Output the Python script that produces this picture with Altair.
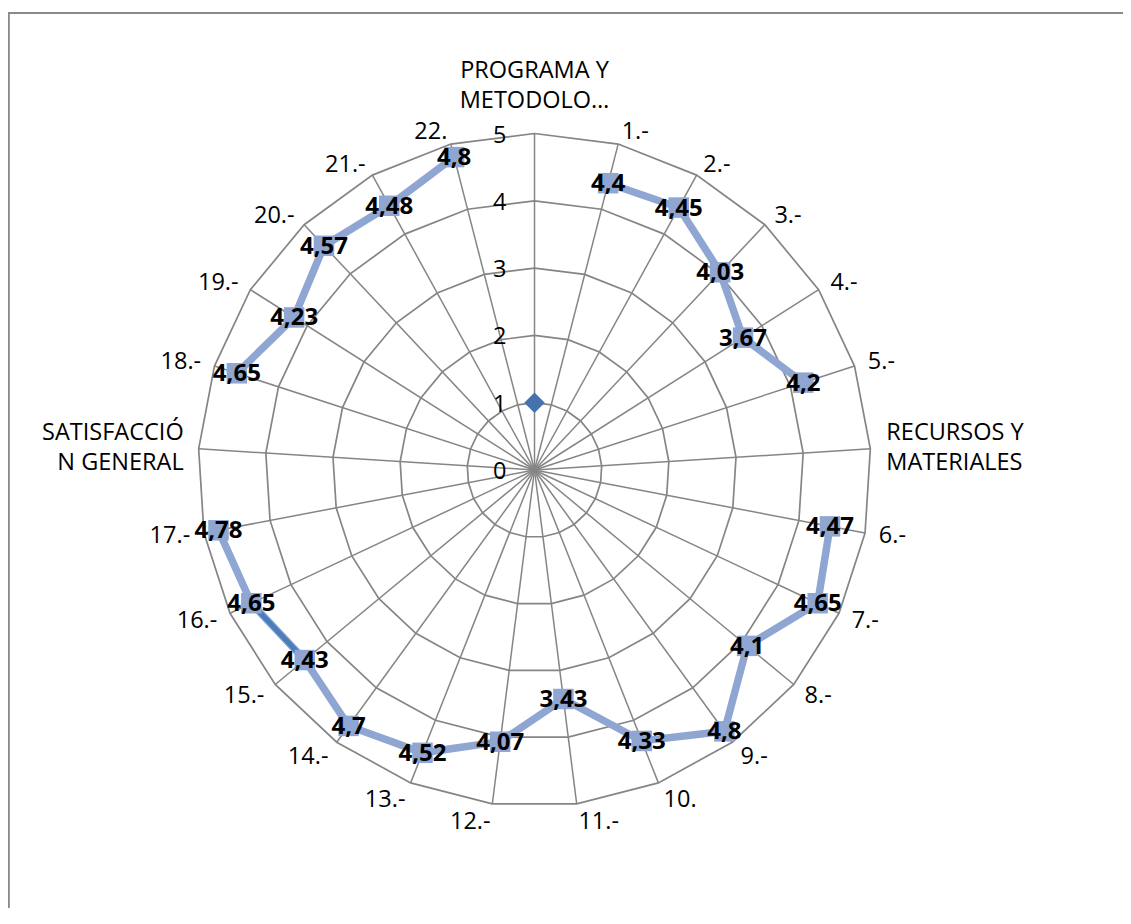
import altair as alt
import pandas as pd

# ---------------- data ----------------
categories = [
    "PROGRAMA Y\nMETODOLO…", "1.-", "2.-", "3.-", "4.-", "5.-",
    "RECURSOS Y\nMATERIALES", "6.-", "7.-", "8.-", "9.-", "10.", "11.-",
    "12.-", "13.-", "14.-", "15.-", "16.-", "17.-",
    "SATISFACCIÓ\nN GENERAL", "18.-", "19.-", "20.-", "21.-", "22.",
]
values = [
    None, 4.4, 4.45, 4.03, 3.67, 4.2,
    None, 4.47, 4.65, 4.1, 4.8, 4.33, 3.43,
    4.07, 4.52, 4.7, 4.43, 4.65, 4.78,
    None, 4.65, 4.23, 4.57, 4.48, 4.8,
]
series2_category = ["PROGRAMA Y\nMETODOLO…"]
series2_values = [1]
dark_segment = ["15.-", "16.-"]
group_labels = ["PROGRAMA Y\nMETODOLO…", "RECURSOS Y\nMATERIALES", "SATISFACCIÓ\nN GENERAL"]
ring_levels = [1, 2, 3, 4, 5]
tick_labels = [0, 1, 2, 3, 4, 5]

N = len(categories)
RMAX = 5

# ---------------- tables ----------------
seg, rows = 0, []
for i, (c, v) in enumerate(zip(categories, values)):
    if v is None:
        seg += 1
    rows.append({"idx": i, "cat": c, "value": v, "seg": seg})
df_cat = pd.DataFrame(rows)
df_pts = df_cat.dropna(subset=["value"]).copy()
df_s2 = pd.DataFrame({"cat": series2_category, "value": series2_values,
                      "idx": [categories.index(c) for c in series2_category]})
df_rings = pd.DataFrame([{"level": L, "k": k} for L in ring_levels for k in range(N + 1)])
df_ticks = pd.DataFrame({"t": tick_labels})

# ---------------- geometry (pixel mapping) ----------------
W, H = 1115, 900
UNIT = 67.3            # px per value unit
CX, CY = 526.5, 462.0  # centre inside plot area
xs = alt.Scale(domain=[-CX / UNIT, (W - CX) / UNIT], nice=False, zero=False)
ys = alt.Scale(domain=[-(H - CY) / UNIT, CY / UNIT], nice=False, zero=False)

FONT = "Open Sans"
FS = 23.5
GRID = "#858585"
LIGHT = "#8EA6D1"
DARK = "#4A7DBB"

theta = f"2*PI*datum.idx/{N}"


def X(f):
    return alt.X(f, type="quantitative", scale=xs, axis=None)


def Y(f):
    return alt.Y(f, type="quantitative", scale=ys, axis=None)


rings = alt.Chart(df_rings).transform_calculate(
    th=f"2*PI*datum.k/{N}"
).transform_calculate(
    gx="datum.level*sin(datum.th)", gy="datum.level*cos(datum.th)"
).mark_line(color=GRID, strokeWidth=1.7).encode(
    x=X("gx"), y=Y("gy"), detail="level:N", order="k:Q"
)

spokes = alt.Chart(df_cat).transform_calculate(
    th=theta
).transform_calculate(
    sx=f"{RMAX}*sin(datum.th)", sy=f"{RMAX}*cos(datum.th)", zx="0", zy="0"
).mark_rule(color=GRID, strokeWidth=1.5).encode(
    x=X("zx"), y=Y("zy"), x2="sx:Q", y2="sy:Q"
)

frame_left = alt.Chart(df_ticks).mark_rule(color="#8a8a8a", strokeWidth=1.5).encode(
    x=alt.value(0.5), y=alt.value(5), y2=alt.value(H)
)
frame_top = alt.Chart(df_ticks).mark_rule(color="#8a8a8a", strokeWidth=1.5).encode(
    x=alt.value(0), x2=alt.value(W), y=alt.value(5)
)

ticks = alt.Chart(df_ticks).transform_calculate(tx="0", ty="datum.t").mark_text(
    font=FONT, fontSize=FS, align="right", baseline="middle", dx=-28, dy=2, color="#000000"
).encode(x=X("tx"), y=Y("ty"), text="t:Q")

cat_base = alt.Chart(df_cat).transform_filter(
    alt.FieldOneOfPredicate(field="cat", oneOf=group_labels).__invert__()
).transform_calculate(
    th=theta
).transform_calculate(
    s="sin(datum.th)",
    c="cos(datum.th)",
).transform_calculate(
    lx=f"({RMAX} + 0.208)*datum.s",
    ly=f"{RMAX}*datum.c + (datum.c > 0 ? 0.178 : 0.27)*datum.c",
)
cat_left = cat_base.transform_filter("datum.s > 0").mark_text(
    font=FONT, fontSize=FS, align="left", baseline="middle", color="#000000"
).encode(x=X("lx"), y=Y("ly"), text="cat:N")
cat_right = cat_base.transform_filter("datum.s < 0").mark_text(
    font=FONT, fontSize=FS, align="right", baseline="middle", color="#000000"
).encode(x=X("lx"), y=Y("ly"), text="cat:N")

grp_base = alt.Chart(df_cat).transform_calculate(
    th=theta
).transform_calculate(
    vx=f"{RMAX}*sin(datum.th)", vy=f"{RMAX}*cos(datum.th)"
)
grp_top = grp_base.transform_filter(alt.datum.cat == group_labels[0]).mark_text(
    font=FONT, fontSize=FS, align="center", baseline="middle", lineBreak="\n",
    lineHeight=30, dy=-63, color="#000000"
).encode(x=X("vx"), y=Y("vy"), text="cat:N")
grp_right = grp_base.transform_filter(alt.datum.cat == group_labels[1]).mark_text(
    font=FONT, fontSize=FS, align="left", baseline="middle", lineBreak="\n",
    lineHeight=30, dx=16, dy=-16, color="#000000"
).encode(x=X("vx"), y=Y("vy"), text="cat:N")
grp_left = grp_base.transform_filter(alt.datum.cat == group_labels[2]).mark_text(
    font=FONT, fontSize=FS, align="right", baseline="middle", lineBreak="\n",
    lineHeight=30, dx=-15, dy=-16, color="#000000"
).encode(x=X("vx"), y=Y("vy"), text="cat:N")

pts = alt.Chart(df_pts).transform_calculate(
    th=theta
).transform_calculate(
    px="datum.value*sin(datum.th)", py="datum.value*cos(datum.th)",
    lab="replace(toString(datum.value), '.', ',')",
)
line = pts.mark_line(color=LIGHT, strokeWidth=7.5).encode(
    x=X("px"), y=Y("py"), detail="seg:N", order="idx:Q"
)
dark = pts.transform_filter(
    alt.FieldOneOfPredicate(field="cat", oneOf=dark_segment)
).mark_line(color=DARK, strokeWidth=5).encode(
    x=X("px"), y=Y("py"), order="idx:Q"
)
squares = pts.mark_point(shape="square", filled=True, size=420, opacity=1, color=LIGHT).encode(
    x=X("px"), y=Y("py")
)
labels = pts.mark_text(
    font=FONT, fontSize=24, fontWeight="bold", align="center", baseline="middle",
    dy=1, color="#000000"
).encode(x=X("px"), y=Y("py"), text="lab:N")

s2 = alt.Chart(df_s2).transform_calculate(
    th=theta
).transform_calculate(
    px="datum.value*sin(datum.th)", py="datum.value*cos(datum.th)"
).mark_point(shape="diamond", filled=True, size=420, opacity=1, color="#4472AE").encode(
    x=X("px"), y=Y("py")
)

chart = alt.layer(
    frame_left, frame_top, rings, spokes, ticks, cat_left, cat_right,
    grp_top, grp_right, grp_left, line, dark, squares, s2, labels
).properties(
    width=W, height=H, padding=0, autosize=alt.AutoSizeParams(type="none"),
    background="#ffffff"
).configure_view(stroke=None)

chart.save("out.html", embed_options={"renderer": "svg", "actions": False})
